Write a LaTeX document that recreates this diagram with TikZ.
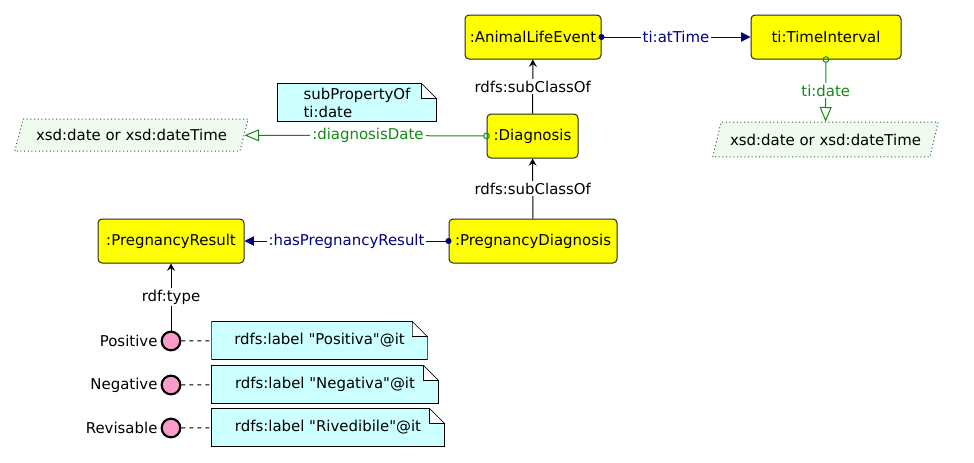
\documentclass[tikz,border=0pt]{standalone}
\usepackage{fontspec}
\setmainfont{DejaVu Sans}
\usepackage{xcolor}
\usetikzlibrary{arrows.meta,calc,shapes.geometric,backgrounds}
\definecolor{clsyellow}{HTML}{FFFF00}
\definecolor{notecyan}{HTML}{CCFFFF}
\definecolor{dtgreen}{HTML}{EEFBEE}
\definecolor{indpink}{HTML}{F99CCB}
\definecolor{opblue}{HTML}{000080}
\definecolor{dpgreen}{HTML}{138A13}

\begin{document}
\begin{tikzpicture}[x=0.75pt, y=-0.75pt, line width=0.75pt, font=\fontsize{11.2pt}{13.5pt}\selectfont,
  cls/.style={draw=black!85, rounded corners=3pt, fill=clsyellow, minimum height=33pt, inner sep=2pt},
  dtype/.style={trapezium, trapezium left angle=60, trapezium right angle=120, trapezium stretches body,
    draw=black!70, dotted, fill=dtgreen, inner sep=1pt},
  note/.style={align=left, minimum height=27.75pt, inner sep=2pt},
  ind/.style={circle, draw=black, line width=1.6pt, fill=indpink, minimum size=14pt, inner sep=0pt},
  lbl/.style={fill=white, inner sep=1.5pt},
  sub/.style={-{Stealth[length=5.5pt, width=6pt, inset=2pt]}, black},
  op/.style={{Circle[length=4.5pt]}-{Triangle[length=7pt, width=7pt]}, opblue, shorten <=-2.25pt},
  dp/.style={{Circle[open, length=5pt]}-{Triangle[open, length=11pt, width=9pt]}, dpgreen, shorten <=-2.5pt},
  lnk/.style={dashed, black}]
\useasboundingbox (0,0) rectangle (974,462);
% classes
\node[cls, minimum width=102pt] (ale) at (533,37) {:AnimalLifeEvent};
\node[cls, minimum width=112.5pt] (ti) at (826,37) {ti:TimeInterval};
\node[cls, minimum width=68.25pt] (diag) at (532.5,136) {:Diagnosis};
\node[cls, minimum width=126pt] (pdiag) at (533,241) {:PregnancyDiagnosis};
\node[cls, minimum width=109.5pt] (pres) at (171,241) {:PregnancyResult};
% datatypes
\node[dtype, minimum width=175pt, minimum height=24pt] (dtl) at (131.5,135) {xsd:date or xsd:dateTime};
\node[dtype, minimum width=169pt, minimum height=26pt] (dtr) at (825.5,139.5) {xsd:date or xsd:dateTime};
% notes
\node[note, minimum width=118.5pt] (subp) at (357,102.5) {subPropertyOf\\ti:date};
\node[note, minimum width=161pt] (npos) at (319.5,340.5) {rdfs:label \textquotedbl Positiva\textquotedbl @it};
\node[note, minimum width=169.5pt] (nneg) at (325,384.5) {rdfs:label \textquotedbl Negativa\textquotedbl @it};
\node[note, minimum width=174pt] (nrev) at (328,427.5) {rdfs:label \textquotedbl Rivedibile\textquotedbl @it};
% individuals
\node[ind, label={[inner sep=2pt]left:Positive}] (pos) at (171,341) {};
\node[ind, label={[inner sep=2pt]left:Negative}] (neg) at (171,385) {};
\node[ind, label={[inner sep=2pt]left:Revisable}] (rev) at (171,428) {};
\begin{scope}[on background layer]
  \foreach \n in {subp,npos,nneg,nrev} {
    \draw[black, fill=notecyan] (\n.south west) |- ($(\n.north east)+(-15,0)$) -- ($(\n.north east)+(0,15)$) |- cycle;
    \draw[black, fill=white] ($(\n.north east)+(-15,0)$) -- ($(\n.north east)+(0,15)$) -| cycle;
  }
\end{scope}
% connectors
\draw[op] (ale) -- node[lbl, text=opblue] {ti:atTime} (ti);
\draw[op] (pdiag) -- node[lbl, text=opblue] {:hasPregnancyResult} (pres);
\draw[dp] (diag) -- node[lbl, text=dpgreen, pos=0.49] {:diagnosisDate} (dtl);
\draw[dp] (ti) -- node[lbl, text=dpgreen] {ti:date} (dtr);
\draw[sub] (diag) -- node[lbl] {rdfs:subClassOf} (ale);
\draw[sub] (pdiag) -- node[lbl] {rdfs:subClassOf} (diag);
\draw[sub] (pos) -- node[lbl] {rdf:type} (pres);
\draw[lnk] (pos) -- (npos);
\draw[lnk] (neg) -- (nneg);
\draw[lnk] (rev) -- (nrev);
\end{tikzpicture}
\end{document}
